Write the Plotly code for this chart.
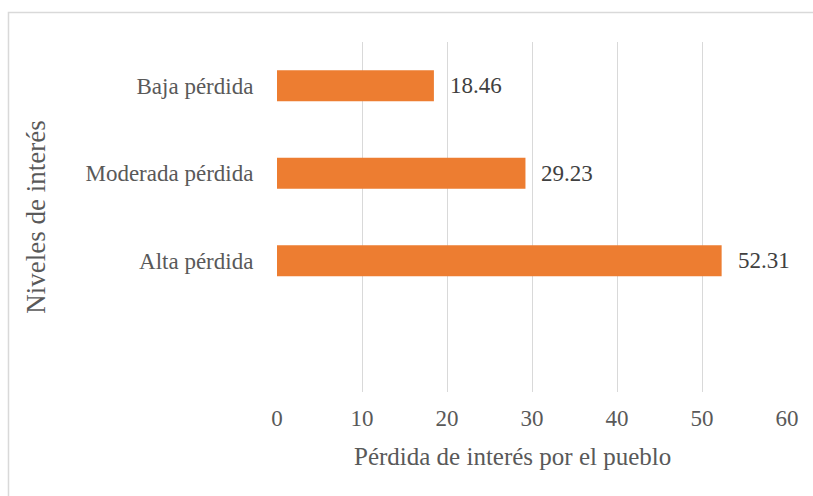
import plotly.graph_objects as go

categories = ["Baja pérdida", "Moderada pérdida", "Alta pérdida", " "]
values = [18.46, 29.23, 52.31, None]
value_labels = ["18.46", "29.23", "52.31", ""]
x_ticks = [0, 10, 20, 30, 40, 50, 60]
x_title = "Pérdida de interés por el pueblo"
y_title = "Niveles de interés"

TXT = "#595959"
FONT = "Liberation Serif"

fig = go.Figure()
fig.add_trace(go.Bar(
    x=values, y=categories, orientation="h",
    marker=dict(color="#ED7D31", line=dict(width=0)),
    width=0.353, hoverinfo="skip",
))

for c, v, t in zip(categories, values, value_labels):
    if v is None:
        continue
    fig.add_annotation(x=v, y=c, text=t, showarrow=False, xanchor="left",
                       xshift=14, font=dict(family=FONT, size=23, color="#404040"))

fig.add_annotation(x=0.4608, y=-0.1857, xref="paper", yref="paper",
                   text=x_title, showarrow=False, xanchor="center", yanchor="middle",
                   font=dict(family=FONT, size=25, color=TXT))

fig.update_layout(
    width=813, height=496,
    margin=dict(l=277, r=26, t=42, b=104),
    paper_bgcolor="white", plot_bgcolor="white",
    showlegend=False,
    font=dict(family=FONT, color=TXT),
    xaxis=dict(
        range=[0, 60], tickvals=x_ticks, ticktext=[str(v) for v in x_ticks],
        showgrid=True, gridcolor="#D9D9D9", gridwidth=1.3,
        zeroline=False, showline=False,
        ticks="outside", ticklen=5, tickcolor="rgba(0,0,0,0)",
        tickfont=dict(family=FONT, size=23, color=TXT),
        fixedrange=True,
    ),
    yaxis=dict(
        categoryorder="array", categoryarray=categories, autorange="reversed",
        showgrid=False, zeroline=False, showline=False,
        ticks="outside", ticklen=18, tickcolor="rgba(0,0,0,0)",
        tickfont=dict(family=FONT, size=23, color=TXT),
        title=dict(text=y_title,
                   font=dict(family=FONT, size=27, color=TXT), standoff=31),
        fixedrange=True,
    ),
    shapes=[dict(type="rect", xref="paper", yref="paper",
                 x0=-0.5265, x1=1.08, y0=-0.35, y1=1.0843,
                 line=dict(color="#D9D9D9", width=1.5), fillcolor="rgba(0,0,0,0)",
                 layer="below")],
)

fig.write_html("out.html", config={"displayModeBar": False},
               post_script="document.body.style.margin='0';document.body.style.overflow='hidden';")
